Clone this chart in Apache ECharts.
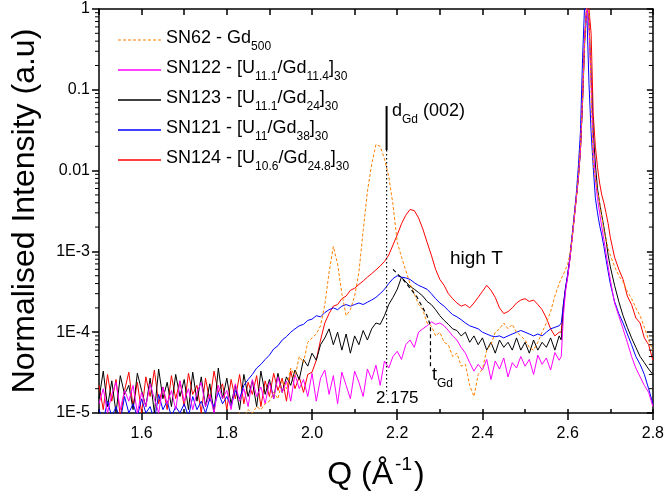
<!DOCTYPE html>
<html>
<head>
<meta charset="utf-8">
<script src="https://cdn.jsdelivr.net/npm/echarts@6/dist/echarts.min.js"></script>
<style>
  html, body { margin: 0; padding: 0; background: #fff; }
  #main { width: 667px; height: 499px; }
</style>
</head>
<body>
<div id="main"></div>
<script>
// Q grid (A^-1)
var q = [
  1.50,1.51,1.52,1.53,1.54,1.55,1.56,1.57,1.58,1.59,
  1.60,1.61,1.62,1.63,1.64,1.65,1.66,1.67,1.68,1.69,
  1.70,1.71,1.72,1.73,1.74,1.75,1.76,1.77,1.78,1.79,
  1.80,1.81,1.82,1.83,1.84,1.85,1.86,1.87,1.88,1.89,
  1.90,1.91,1.92,1.93,1.94,1.95,1.96,1.97,1.98,1.99,
  2.00,2.01,2.02,2.03,2.04,2.05,2.06,2.07,2.08,2.09,
  2.10,2.11,2.12,2.13,2.14,2.15,2.16,2.17,2.18,2.19,
  2.20,2.21,2.22,2.23,2.24,2.25,2.26,2.27,2.28,2.29,
  2.30,2.31,2.32,2.33,2.34,2.35,2.36,2.37,2.38,2.39,
  2.40,2.41,2.42,2.43,2.44,2.45,2.46,2.47,2.48,2.49,
  2.50,2.51,2.52,2.53,2.54,2.55,2.56,2.57,2.58,
  2.585,2.59,2.595,2.60,2.605,2.61,2.615,2.62,2.625,2.63,2.635,2.64,
  2.645,2.65,2.655,2.66,2.665,2.67,2.675,2.68,2.685,2.69,2.695,2.70,
  2.71,2.72,2.73,2.74,2.75,2.76,2.77,2.78,2.79,2.80
];

// SN62 - Gd500 (orange, dashed)
var sn62 = [
  0.8e-5,0.9e-5,0.7e-5,0.9e-5,0.8e-5,0.9e-5,0.7e-5,0.8e-5,0.9e-5,0.8e-5,
  0.9e-5,0.7e-5,0.8e-5,0.9e-5,0.8e-5,0.7e-5,0.9e-5,0.8e-5,0.9e-5,0.7e-5,
  0.8e-5,0.9e-5,0.8e-5,0.7e-5,0.9e-5,0.8e-5,0.9e-5,0.8e-5,0.7e-5,0.9e-5,
  0.9e-5,0.8e-5,0.9e-5,1.0e-5,0.9e-5,1.1e-5,1.0e-5,1.2e-5,1.1e-5,1.3e-5,
  1.4e-5,1.8e-5,1.5e-5,2.5e-5,2.0e-5,3.6e-5,2.8e-5,5.0e-5,4.2e-5,7.5e-5,
  8.5e-5,9.5e-5,1.2e-4,2.2e-4,5.5e-4,1.15e-3,7e-4,3e-4,1.6e-4,1.9e-4,
  2.8e-4,5.5e-4,1.8e-3,5.5e-3,1.2e-2,2.1e-2,2.0e-2,1.4e-2,8.5e-3,3.8e-3,
  1.3e-3,8.5e-4,5.8e-4,4e-4,3e-4,2.2e-4,1.9e-4,1.3e-4,1.2e-4,9e-5,
  1.0e-4,7.5e-5,7e-5,5e-5,5.5e-5,3.8e-5,4e-5,2.2e-5,1.6e-5,3e-5,
  3.5e-5,6e-5,7e-5,1.0e-4,1.1e-4,1.3e-4,1.1e-4,1.25e-4,1.0e-4,9e-5,
  8e-5,6.5e-5,6e-5,7.5e-5,1.0e-4,1.3e-4,1.8e-4,2.8e-4,4e-4,
  4.6e-4,5.2e-4,6e-4,7e-4,9e-4,1.4e-3,2.5e-3,4.5e-3,8.5e-3,0.02,0.08,0.4,
  1.1,0.9,0.1,0.012,8e-3,5.5e-3,4e-3,2.7e-3,1.8e-3,1.4e-3,1.1e-3,9e-4,
  6.5e-4,5e-4,4.2e-4,3.2e-4,2.6e-4,2e-4,1.6e-4,1.15e-4,8e-5,6e-5
];

// SN124 - [U10.6/Gd24.8]30 (red)
var sn124 = [
  2.2e-5,1.1e-5,3.0e-5,1.4e-5,2.6e-5,0.9e-5,1.9e-5,3.2e-5,1.2e-5,2.4e-5,
  1.0e-5,2.8e-5,1.6e-5,3.4e-5,1.3e-5,2.1e-5,1.1e-5,2.9e-5,1.5e-5,2.5e-5,
  1.2e-5,3.1e-5,1.7e-5,2.2e-5,1.0e-5,2.7e-5,1.4e-5,3.3e-5,1.8e-5,2.3e-5,
  1.1e-5,2.6e-5,1.5e-5,3.0e-5,1.3e-5,2.4e-5,1.7e-5,2.9e-5,1.2e-5,2.5e-5,
  1.6e-5,3.1e-5,1.9e-5,2.7e-5,1.4e-5,3.3e-5,2.0e-5,2.8e-5,1.8e-5,3.0e-5,
  3.2e-5,4.5e-5,8e-5,1.3e-4,1.7e-4,2.1e-4,2.2e-4,2.6e-4,2.8e-4,3.3e-4,
  3.5e-4,3.9e-4,4.3e-4,4.8e-4,5.3e-4,5.9e-4,6.6e-4,7.5e-4,9e-4,1.2e-3,
  1.6e-3,2.2e-3,2.8e-3,3.3e-3,3.2e-3,2.6e-3,1.9e-3,1.3e-3,9e-4,6e-4,
  4.5e-4,3.8e-4,3.0e-4,2.6e-4,2.3e-4,2.1e-4,2.2e-4,2.0e-4,2.3e-4,2.7e-4,
  3.2e-4,3.8e-4,3.3e-4,2.7e-4,2.0e-4,1.7e-4,1.8e-4,2.0e-4,2.3e-4,2.5e-4,
  2.6e-4,2.4e-4,2.5e-4,2.2e-4,1.9e-4,1.5e-4,1.1e-4,9e-5,1.0e-4,
  1.0e-4,2.2e-4,3.5e-4,5e-4,8e-4,1.4e-3,2.5e-3,4.5e-3,8e-3,0.018,0.08,0.45,
  1.2,1.0,0.5,0.05,0.02,0.011,7e-3,5e-3,4e-3,3e-3,2.2e-3,1.5e-3,
  8.5e-4,6e-4,4.5e-4,2.8e-4,2.2e-4,1.5e-4,1.3e-4,8.5e-5,7e-5,4.5e-5
];

// SN123 - [U11.1/Gd24]30 (black)
var sn123 = [
  1.5e-5,3.3e-5,1.2e-5,2.5e-5,1.0e-5,2.9e-5,1.7e-5,2.2e-5,1.1e-5,3.1e-5,
  1.9e-5,1.2e-5,2.7e-5,1.0e-5,3.5e-5,1.5e-5,2.4e-5,1.2e-5,3.0e-5,1.6e-5,
  2.6e-5,1.1e-5,3.2e-5,1.4e-5,2.8e-5,1.2e-5,2.3e-5,1.0e-5,3.6e-5,1.5e-5,
  2.7e-5,1.3e-5,2.2e-5,1.1e-5,3.0e-5,1.6e-5,2.5e-5,1.2e-5,3.3e-5,1.7e-5,
  2.6e-5,1.5e-5,3.1e-5,1.8e-5,2.8e-5,2.2e-5,3.4e-5,2.6e-5,4.6e-5,3.8e-5,
  5.5e-5,4.5e-5,7e-5,8.5e-5,1.1e-4,7e-5,1.0e-4,6e-5,9.5e-5,5.5e-5,
  9e-5,7e-5,1.05e-4,8e-5,1.1e-4,1.3e-4,1.25e-4,1.6e-4,2.2e-4,2.7e-4,
  3.4e-4,4.8e-4,4.2e-4,3.7e-4,3.4e-4,3.1e-4,2.8e-4,2.4e-4,2.2e-4,1.9e-4,
  1.6e-4,1.4e-4,1.25e-4,1.1e-4,1.05e-4,9e-5,1.0e-4,7.5e-5,9e-5,7e-5,
  8.5e-5,6e-5,7.5e-5,5.5e-5,8e-5,6.5e-5,7.5e-5,6e-5,8.5e-5,6e-5,
  7.5e-5,5.5e-5,8e-5,6e-5,7.5e-5,6.5e-5,8.5e-5,6e-5,9e-5,
  8e-5,2e-4,3.4e-4,5e-4,8e-4,1.4e-3,2.5e-3,4.5e-3,8e-3,0.018,0.07,0.4,
  1.1,0.7,0.15,0.03,0.012,6e-3,4e-3,2.8e-3,2e-3,1.4e-3,9e-4,6.5e-4,
  3.8e-4,2.4e-4,1.6e-4,1.15e-4,8.5e-5,6.5e-5,5e-5,4.2e-5,3.5e-5,3e-5
];

// SN121 - [U11/Gd38]30 (blue)
var sn121 = [
  1.1e-5,0.8e-5,1.4e-5,0.9e-5,1.2e-5,0.8e-5,1.6e-5,1.0e-5,1.3e-5,0.9e-5,
  1.5e-5,1.0e-5,1.2e-5,0.8e-5,1.7e-5,1.1e-5,1.4e-5,0.9e-5,1.2e-5,1.0e-5,
  1.3e-5,0.9e-5,1.6e-5,1.1e-5,1.4e-5,1.0e-5,1.5e-5,1.2e-5,1.8e-5,1.3e-5,
  1.6e-5,1.2e-5,1.9e-5,1.5e-5,2.2e-5,2.6e-5,3.0e-5,3.6e-5,4.0e-5,4.6e-5,
  5.2e-5,6.2e-5,6.8e-5,8e-5,8.8e-5,1.0e-4,1.1e-4,1.2e-4,1.25e-4,1.4e-4,
  1.45e-4,1.6e-4,1.55e-4,1.75e-4,1.9e-4,2.0e-4,1.9e-4,2.1e-4,2.2e-4,2.1e-4,
  2.2e-4,2.3e-4,2.2e-4,2.35e-4,2.5e-4,2.7e-4,3.0e-4,3.4e-4,4.0e-4,4.6e-4,
  5.0e-4,4.8e-4,4.7e-4,4.5e-4,4.1e-4,3.8e-4,3.6e-4,3.4e-4,3.0e-4,2.6e-4,
  2.3e-4,2.1e-4,1.85e-4,1.65e-4,1.55e-4,1.43e-4,1.3e-4,1.2e-4,1.15e-4,1.1e-4,
  1.0e-4,9.5e-5,9e-5,8.8e-5,9e-5,8.5e-5,9e-5,9.5e-5,1.0e-4,1.05e-4,
  1.0e-4,9.5e-5,9e-5,9.5e-5,9e-5,1.0e-4,1.1e-4,1.15e-4,1.2e-4,
  1.3e-4,2.2e-4,3.6e-4,5.2e-4,8.5e-4,1.5e-3,2.7e-3,5e-3,0.011,0.03,0.25,1.2,
  0.9,0.12,0.03,0.011,4.6e-3,3e-3,2.1e-3,1.6e-3,1.15e-3,8e-4,5.6e-4,4e-4,
  2.4e-4,1.7e-4,1.3e-4,9.5e-5,7e-5,5e-5,4e-5,3e-5,2e-5,1.3e-5
];

// SN122 - [U11.1/Gd11.4]30 (magenta)
var sn122 = [
  1.3e-5,2.0e-5,1.0e-5,1.7e-5,2.4e-5,1.1e-5,1.9e-5,1.4e-5,2.2e-5,1.0e-5,
  1.8e-5,1.2e-5,2.3e-5,1.5e-5,1.0e-5,2.1e-5,1.3e-5,1.9e-5,1.1e-5,2.5e-5,
  1.4e-5,2.0e-5,1.1e-5,1.8e-5,2.4e-5,1.2e-5,1.7e-5,1.0e-5,2.2e-5,1.5e-5,
  1.9e-5,1.1e-5,2.3e-5,1.4e-5,2.0e-5,1.2e-5,2.6e-5,1.6e-5,2.1e-5,1.3e-5,
  2.4e-5,1.5e-5,2.8e-5,1.8e-5,2.5e-5,1.4e-5,3.0e-5,2.0e-5,2.6e-5,1.6e-5,
  3.1e-5,1.4e-5,2.7e-5,3.4e-5,1.7e-5,2.9e-5,1.3e-5,3.2e-5,2.2e-5,1.5e-5,
  3.3e-5,2.4e-5,1.6e-5,3.5e-5,2.6e-5,3.9e-5,2.2e-5,4.4e-5,3.6e-5,5.0e-5,
  5.8e-5,4.6e-5,7e-5,8e-5,6.5e-5,1.0e-4,1.1e-4,1.2e-4,1.35e-4,1.25e-4,
  1.3e-4,1.2e-4,1.05e-4,9e-5,8e-5,6.5e-5,5.5e-5,4.2e-5,3.3e-5,4.0e-5,
  3.4e-5,4.6e-5,2.6e-5,4.4e-5,3.5e-5,4.8e-5,2.8e-5,4.2e-5,3.6e-5,5.0e-5,
  3.8e-5,4.6e-5,3.0e-5,5.2e-5,4.0e-5,4.8e-5,3.4e-5,5.6e-5,4.5e-5,
  5e-5,1.6e-4,3.2e-4,4.8e-4,7.8e-4,1.35e-3,2.4e-3,4.4e-3,8e-3,0.018,0.08,0.45,
  1.1,0.6,0.12,0.02,8e-3,4.5e-3,3e-3,2e-3,1.4e-3,9.5e-4,6.5e-4,4.5e-4,
  2.3e-4,1.6e-4,1.1e-4,7.5e-5,5e-5,3.6e-5,2.8e-5,2.2e-5,1.8e-5,1.2e-5
];

// annotation lines
var dGdQ = 2.175;
var dGdBar = [0.063, 0.018];
var dGdDots = [0.018, 1.7e-5];
var tGdGuide = [[2.19, 6e-4], [2.215, 4.4e-4], [2.245, 2.8e-4], [2.27, 1.6e-4], [2.278, 1.2e-4], [2.278, 3.6e-5]];

var xTicks = [1.6, 1.8, 2.0, 2.2, 2.4, 2.6, 2.8];
var logMults = [2, 3, 4, 5, 6, 7, 8, 9];
var decades = [1e-5, 1e-4, 1e-3, 1e-2, 1e-1];

var legendText = {
    'SN62': '{n|SN62 - Gd}{s|500}',
    'SN122': '{n|SN122 - [U}{s|11.1}{n|/Gd}{s|11.4}{n|]}{s|30}',
    'SN123': '{n|SN123 - [U}{s|11.1}{n|/Gd}{s|24}{n|]}{s|30}',
    'SN121': '{n|SN121 - [U}{s|11}{n|/Gd}{s|38}{n|]}{s|30}',
    'SN124': '{n|SN124 - [U}{s|10.6}{n|/Gd}{s|24.8}{n|]}{s|30}'
};

function pairs(ys) {
    var out = [];
    for (var i = 0; i < q.length; i++) out.push([q[i], ys[i]]);
    return out;
}

var minorTicks = [];
decades.forEach(function (d) {
    logMults.forEach(function (m) { minorTicks.push([1.5, m * d]); });
});

// dashed legend icon (short dashes like the orange curve)
var dashIcon = 'path://';
for (var dx = 0; dx < 43; dx += 5) dashIcon += 'M' + dx + ',0h3v1h-3z';

var FONT = 'Liberation Sans, Arial, sans-serif';
var subRich = {
    n: {fontSize: 18, lineHeight: 22, verticalAlign: 'top', fontFamily: FONT, color: '#000'},
    s: {fontSize: 12, lineHeight: 12, padding: [12, 0, 0, 0], verticalAlign: 'top', fontFamily: FONT, color: '#000'}
};

function dataLine(name, color, ys, dashed) {
    return {
        name: name,
        type: 'line',
        data: pairs(ys),
        symbol: 'none',
        showSymbol: false,
        clip: true,
        lineStyle: {color: color, width: 1, type: dashed ? [3, 2] : 'solid'},
        itemStyle: {color: color},
        z: 2
    };
}

var chart = echarts.init(document.getElementById('main'), null, {renderer: 'canvas'});

var option = {
    animation: false,
    backgroundColor: '#fff',
    textStyle: {fontFamily: FONT},
    grid: {left: 99, right: 10, top: 9, bottom: 86, containLabel: false},
    legend: {
        orient: 'vertical',
        left: 113,
        top: 24,
        itemWidth: 43,
        itemHeight: 1.5,
        itemGap: 6,
        data: [
            {name: 'SN62', icon: dashIcon},
            {name: 'SN122', icon: 'rect'},
            {name: 'SN123', icon: 'rect'},
            {name: 'SN121', icon: 'rect'},
            {name: 'SN124', icon: 'rect'}
        ],
        formatter: function (name) { return legendText[name]; },
        textStyle: {fontSize: 18, fontFamily: FONT, color: '#000', rich: subRich}
    },
    xAxis: [{
        type: 'value',
        min: 1.5,
        max: 2.8,
        position: 'bottom',
        axisLine: {lineStyle: {color: '#000', width: 1.5}},
        axisTick: {customValues: xTicks, length: 7, lineStyle: {color: '#000', width: 1.5}},
        axisLabel: {customValues: xTicks, margin: 13, fontSize: 16, color: '#000', fontFamily: FONT,
            formatter: function (v) { return v.toFixed(1); }},
        splitLine: {show: false},
        name: '{n|Q (Å}{p|-1}{n|)}',
        nameLocation: 'middle',
        nameGap: 42,
        nameTextStyle: {
            rich: {
                n: {fontSize: 32, lineHeight: 36, verticalAlign: 'bottom', fontFamily: FONT, color: '#000'},
                p: {fontSize: 19, lineHeight: 36, verticalAlign: 'top', padding: [0, 2, 14, 2], fontFamily: FONT, color: '#000'}
            }
        }
    }, {
        type: 'value',
        min: 1.5,
        max: 2.8,
        position: 'top',
        interval: 0.1,
        axisLine: {lineStyle: {color: '#000', width: 1.5}},
        axisTick: {inside: true, length: 6, lineStyle: {color: '#000', width: 1.5}},
        axisLabel: {show: false},
        splitLine: {show: false}
    }, {
        type: 'value',
        min: 1.5,
        max: 2.8,
        position: 'bottom',
        interval: 0.1,
        axisLine: {show: false},
        axisTick: {inside: true, length: 4, lineStyle: {color: '#000', width: 1.5}},
        axisLabel: {show: false},
        splitLine: {show: false}
    }],
    yAxis: [{
        type: 'log',
        logBase: 10,
        min: 1e-5,
        max: 1,
        position: 'left',
        axisLine: {show: true, lineStyle: {color: '#000', width: 1.5}},
        axisTick: {show: true, length: 7, lineStyle: {color: '#000', width: 1.5}},
        axisLabel: {
            fontSize: 16, color: '#000', margin: 9, fontFamily: FONT,
            formatter: function (v) {
                var e = Math.round(Math.log10(v));
                if (e === 0) return '1';
                if (e === -1) return '0.1';
                if (e === -2) return '0.01';
                return '1E' + e;
            }
        },
        splitLine: {show: false},
        name: 'Normalised Intensity (a.u)',
        nameLocation: 'middle',
        nameGap: 58,
        nameTextStyle: {fontSize: 32, color: '#000', fontFamily: FONT}
    }, {
        type: 'log',
        logBase: 10,
        min: 1e-5,
        max: 1,
        position: 'right',
        axisLine: {show: true, lineStyle: {color: '#000', width: 1.5}},
        axisTick: {show: true, inside: true, length: 6, lineStyle: {color: '#000', width: 1.5}},
        axisLabel: {show: false},
        splitLine: {show: false}
    }],
    graphic: [
        {type: 'text', left: 392, top: 102, style: {text: '{n|d}{s|Gd}{n| (002)}', rich: subRich}},
        {type: 'text', left: 450, top: 249, style: {text: 'high T', fontSize: 19, fontFamily: FONT, fill: '#000'}},
        {type: 'text', left: 432, top: 366, style: {text: '{n|t}{s|Gd}', rich: subRich}},
        {type: 'text', left: 376, top: 390, style: {text: '2.175', fontSize: 17, fontFamily: FONT, fill: '#000'}}
    ],
    series: [
        dataLine('SN124', '#ff0000', sn124, false),
        dataLine('SN123', '#000000', sn123, false),
        dataLine('SN121', '#0000ff', sn121, false),
        dataLine('SN122', '#ff00ff', sn122, false),
        dataLine('SN62', '#ff8000', sn62, true),
        {
            type: 'line', symbol: 'none', silent: true,
            data: [[dGdQ, dGdBar[0]], [dGdQ, dGdBar[1]]],
            lineStyle: {color: '#000', width: 2}, z: 5
        },
        {
            type: 'line', symbol: 'none', silent: true,
            data: [[dGdQ, dGdDots[0]], [dGdQ, dGdDots[1]]],
            lineStyle: {color: '#000', width: 1.2, type: [1.5, 2.5]}, z: 5
        },
        {
            type: 'line', symbol: 'none', silent: true,
            data: tGdGuide,
            lineStyle: {color: '#000', width: 1.2, type: [4, 3]}, z: 5
        },
        {
            type: 'custom', silent: true, clip: false,
            data: minorTicks,
            encode: {x: 0, y: 1},
            renderItem: function (params, api) {
                var pl = api.coord([1.5, api.value(1)]);
                var pr = api.coord([2.8, api.value(1)]);
                return {
                    type: 'group',
                    children: [
                        {type: 'line', shape: {x1: pl[0] - 4, y1: pl[1], x2: pl[0], y2: pl[1]}, style: {stroke: '#000', lineWidth: 1}},
                        {type: 'line', shape: {x1: pr[0] - 4, y1: pr[1], x2: pr[0], y2: pr[1]}, style: {stroke: '#000', lineWidth: 1}}
                    ]
                };
            },
            z: 6
        }
    ]
};

chart.setOption(option);
</script>
</body>
</html>
